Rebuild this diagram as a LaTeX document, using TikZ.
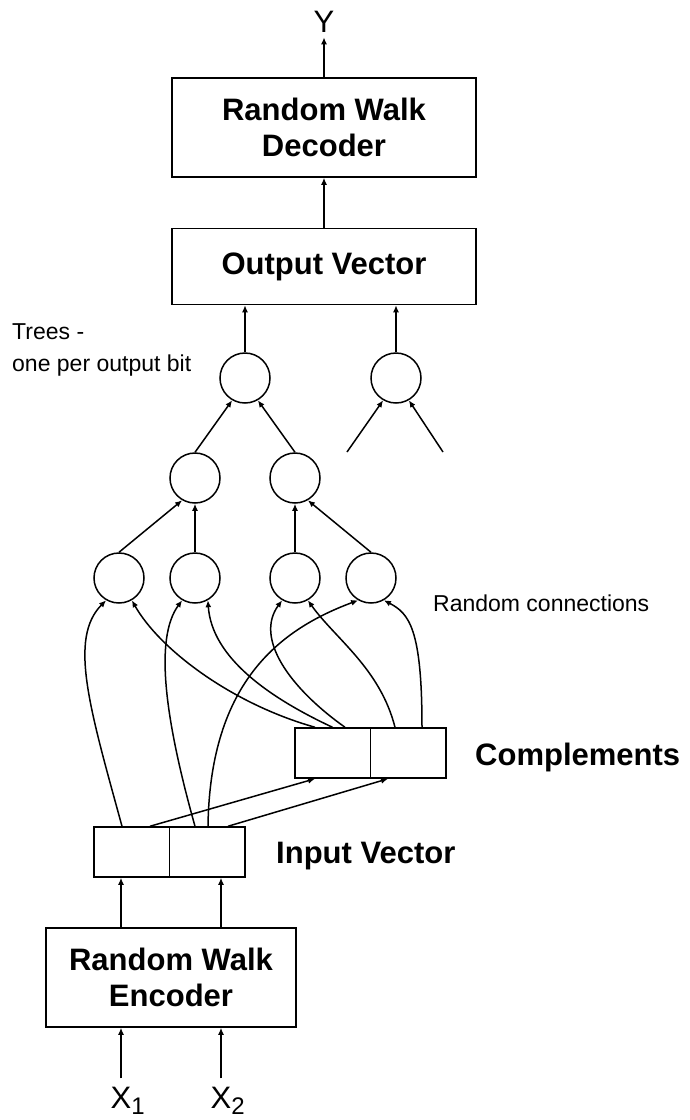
\documentclass[tikz,border=0pt]{standalone}
\usepackage{fontspec}
\setmainfont{Liberation Sans}
\usepackage{tikz}
\usetikzlibrary{positioning,shapes,arrows.meta,calc}
\tikzstyle{box0} = [rectangle, draw, line width=1.5pt, inner sep=0pt, %
   text centered, align=center, font=\fontsize{31}{36}\selectfont\bfseries]
\tikzstyle{cell} = [rectangle, draw, line width=1.5pt, inner sep=0pt, %
   minimum width=75.5pt, minimum height=50pt]
\tikzstyle{unit} = [circle, draw, line width=1.5pt, inner sep=0pt, minimum size=50pt]
\tikzstyle{tag0} = [inner sep=0pt, font=\fontsize{31}{36}\selectfont\bfseries]
\tikzstyle{tag1} = [inner sep=0pt, align=left, font=\fontsize{23}{32}\selectfont]
\tikzstyle{tag2} = [inner sep=0pt, font=\fontsize{31}{36}\selectfont]
\tikzstyle{line} = [draw, line width=1.5pt, -{Latex[length=7pt,width=6pt]}]
\newcommand{\sub}[1]{\rlap{\raisebox{-6pt}{\fontsize{24}{24}\selectfont #1}}}

\begin{document}
\begin{tikzpicture}[x=1pt,y=-1pt]
   \useasboundingbox (0,0) rectangle (690,1120);

% Decoder and output vector %%%%%%%%%%%%%%%%%%%%%%%%%%%%%%%%%%%%%%%%%
   \node[tag2](Yout) at (324,21.5){Y};
   \node[box0, minimum width=304pt, minimum height=99pt](decoder) at (324,127.5){%
      Random Walk\\Decoder};
   \node[box0, below=50pt of decoder, minimum width=304pt, minimum height=76pt](outvec){%
      Output Vector};

% Trees %%%%%%%%%%%%%%%%%%%%%%%%%%%%%%%%%%%%%%%%%%%%%%%%%%%%%%%%%%%%%
   \node[tag1, anchor=north west](trees) at (12,323){Trees -\\one per output bit};
   \node[unit](rootA) at (245,378){};
   \node[unit](rootB) at (396,378){};
   \node[unit](midA) at (195,478){};
   \node[unit](midB) at (295,478){};
   \foreach \n/\x in {1/119,2/195,3/295,4/371}
      \node[unit](leaf\n) at (\x,578){};
   \coordinate (stubL) at (347,452);
   \coordinate (stubR) at (443,452);

   \node[tag1, anchor=base west](randcon) at (433,611){Random connections};

% Complements and input vector %%%%%%%%%%%%%%%%%%%%%%%%%%%%%%%%%%%%%%
   \node[cell](compA) at (332.5,753){};
   \node[cell, right=-1.5pt of compA](compB){};
   \node[tag0, anchor=base west](complab) at (475,765){Complements};

   \node[cell](inA) at (131.5,852){};
   \node[cell, right=-1.5pt of inA](inB){};
   \node[tag0, anchor=base west](inlab) at (276,863){Input Vector};

% Encoder %%%%%%%%%%%%%%%%%%%%%%%%%%%%%%%%%%%%%%%%%%%%%%%%%%%%%%%%%%%
   \node[box0, minimum width=250pt, minimum height=99pt](encoder) at (171,977.5){%
      Random Walk\\Encoder};
   \node[tag2, anchor=base](X1) at (121,1108){X\sub{1}};
   \node[tag2, anchor=base](X2) at (221,1108){X\sub{2}};

   % Draw edges
   % Main spine
   \path [line] ([yshift=8pt]X1.north) -- (X1 |- encoder.south);
   \path [line] ([yshift=8pt]X2.north) -- (X2 |- encoder.south);
   \path [line] ([xshift=-50pt]encoder.north) -- ([xshift=-50pt]encoder.north |- inA.south);
   \path [line] ([xshift=50pt]encoder.north) -- ([xshift=50pt]encoder.north |- inB.south);
   \path [line] (outvec.north) -- (decoder.south);
   \path [line] (decoder.north) -- ([yshift=-5pt]Yout.south);

   % Input vector to complements
   \path [line] ([xshift=18.5pt]inA.north) -- ([xshift=-17.5pt]compA.south);
   \path [line] ([xshift=21pt]inB.north) -- ([xshift=-20pt]compB.south);

   % Random connections
   \path [line] ([xshift=-9.5pt]inA.north) .. controls +(-32,-117) and +(-38,38) .. (leaf1.-120);
   \path [line] ([xshift=-12pt]inB.north) .. controls +(-30,-107) and +(-28,38) .. (leaf2.-120);
   \path [line] ([xshift=1pt]inB.north) .. controls +(2,-147) and +(-75,28) .. (leaf4.-120);
   \path [line] ([xshift=-17.5pt]compA.north) .. controls +(-85,-24) and +(27,48) .. (leaf1.-60);
   \path [line] (compA.north) .. controls +(-62,-29) and +(4,58) .. (leaf2.-60);
   \path [line] ([xshift=12.5pt]compA.north) .. controls +(-55,-39) and +(-28,38) .. (leaf3.-120);
   \path [line] ([xshift=-13pt]compB.north) .. controls +(-15,-59) and +(27,38) .. (leaf3.-60);
   \path [line] ([xshift=14pt]compB.north) .. controls +(0,-99) and +(25,13) .. (leaf4.-60);

   % Trees
   \path [line] (leaf1.north) -- (midA.-120);
   \path [line] (leaf2.north) -- (midA.south);
   \path [line] (leaf3.north) -- (midB.south);
   \path [line] (leaf4.north) -- (midB.-60);
   \path [line] (midA.north) -- (rootA.-120);
   \path [line] (midB.north) -- (rootA.-60);
   \path [line] (stubL) -- (rootB.-120);
   \path [line] (stubR) -- (rootB.-60);
   \path [line] (rootA.north) -- (rootA |- outvec.south);
   \path [line] (rootB.north) -- (rootB |- outvec.south);

\end{tikzpicture}
\end{document}
